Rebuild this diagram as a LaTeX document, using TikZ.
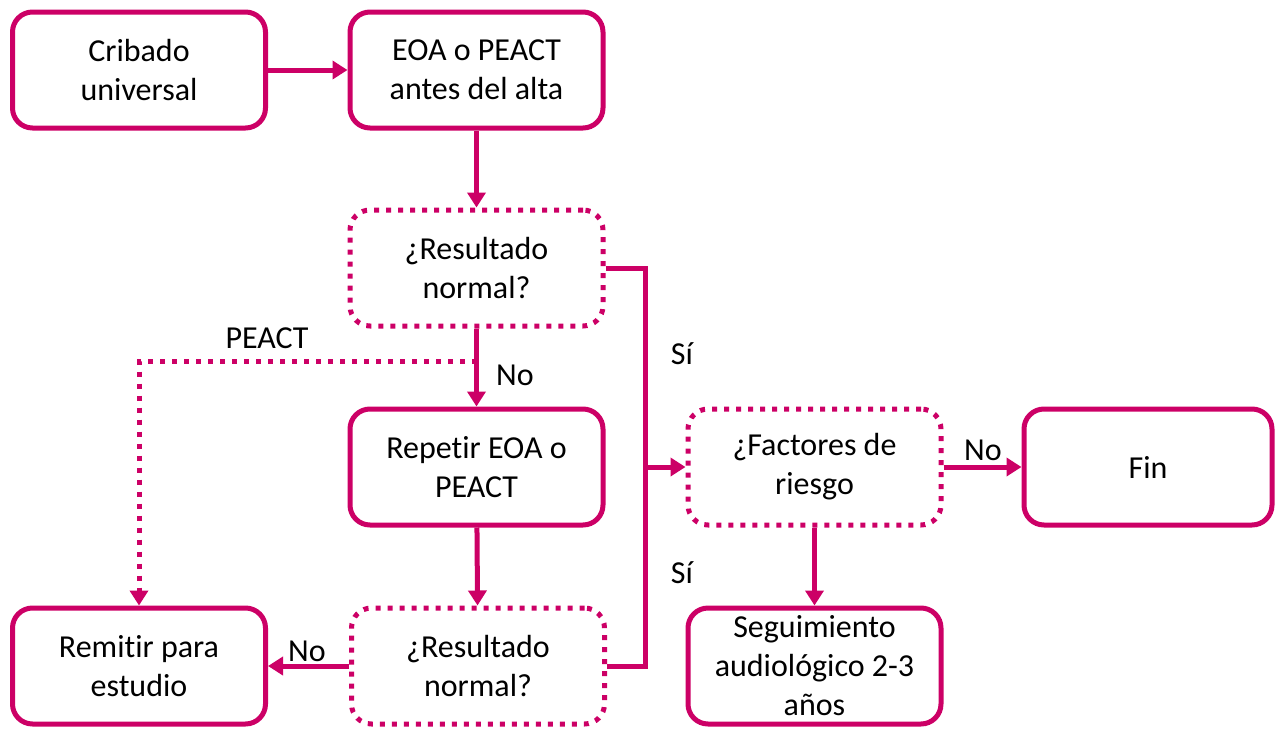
\documentclass[tikz,border=0pt]{standalone}
\usepackage{fontspec}
\setmainfont[Ligatures=NoCommon]{Carlito}
\usetikzlibrary{arrows.meta}
\definecolor{mag}{HTML}{CC0066}
\begin{document}
\begin{tikzpicture}[x=1pt,y=-1pt,
  box/.style={draw=mag,line width=5pt,rounded corners=20pt,minimum width=253pt,minimum height=116pt,align=center,font=\fontsize{32}{39}\selectfont,inner sep=0pt},
  dbox/.style={box,dash pattern=on 5pt off 7pt},
  conn/.style={draw=mag,line width=5pt,-{Triangle[length=15pt,width=18pt]}},
  line/.style={draw=mag,line width=5pt},
  dconn/.style={conn,dash pattern=on 5pt off 7pt},
  lbl/.style={font=\fontsize{32}{36}\selectfont,inner sep=0pt}]
\useasboundingbox (0,0) rectangle (1275,729);
\node[box] (crib) at (139,70) {Cribado\\universal};
\node[box] (eoa) at (476.5,70) {EOA o PEACT\\antes del alta};
\node[dbox] (res1) at (476.5,268) {¿Resultado\\normal?};
\node[box] (rep) at (476.5,467) {Repetir EOA o\\PEACT};
\node[dbox] (res2) at (478,666) {¿Resultado\\normal?};
\node[box] (rem) at (139,666) {Remitir para\\estudio};
\node[dbox] (fac) at (814.5,467) {¿Factores de\\riesgo};
\node[box,minimum width=248pt] (fin) at (1148,467) {Fin};
\node[box] (seg) at (814.5,666) {Seguimiento\\audiológico 2-3\\años};
\draw[conn] (crib) -- (eoa);
\draw[conn] (eoa) -- (res1);
\draw[conn] (res1) -- (rep);
\draw[conn] (rep) -- (res2);
\draw[conn] (res2.west) -- (rem.east);
\draw[conn] (fac) -- (fin);
\draw[conn] (fac) -- (seg);
\coordinate (dj) at (476.5,361);
\coordinate (vx) at (645,467);
\draw[dconn] (dj) -| (rem.north);
\draw[line] (res1.east) -| (vx);
\draw[line] (res2.east) -| (vx);
\draw[conn] (vx) -- (fac.west);
\node[lbl] (pe) at (267,338) {PEACT};
\node[lbl] (no1) at (515,375) {No};
\node[lbl] (no2) at (307,651) {No};
\node[lbl] (no3) at (983,450) {No};
\node[lbl] (si1) at (682,354) {Sí};
\node[lbl] (si2) at (682,573) {Sí};
\end{tikzpicture}
\end{document}
